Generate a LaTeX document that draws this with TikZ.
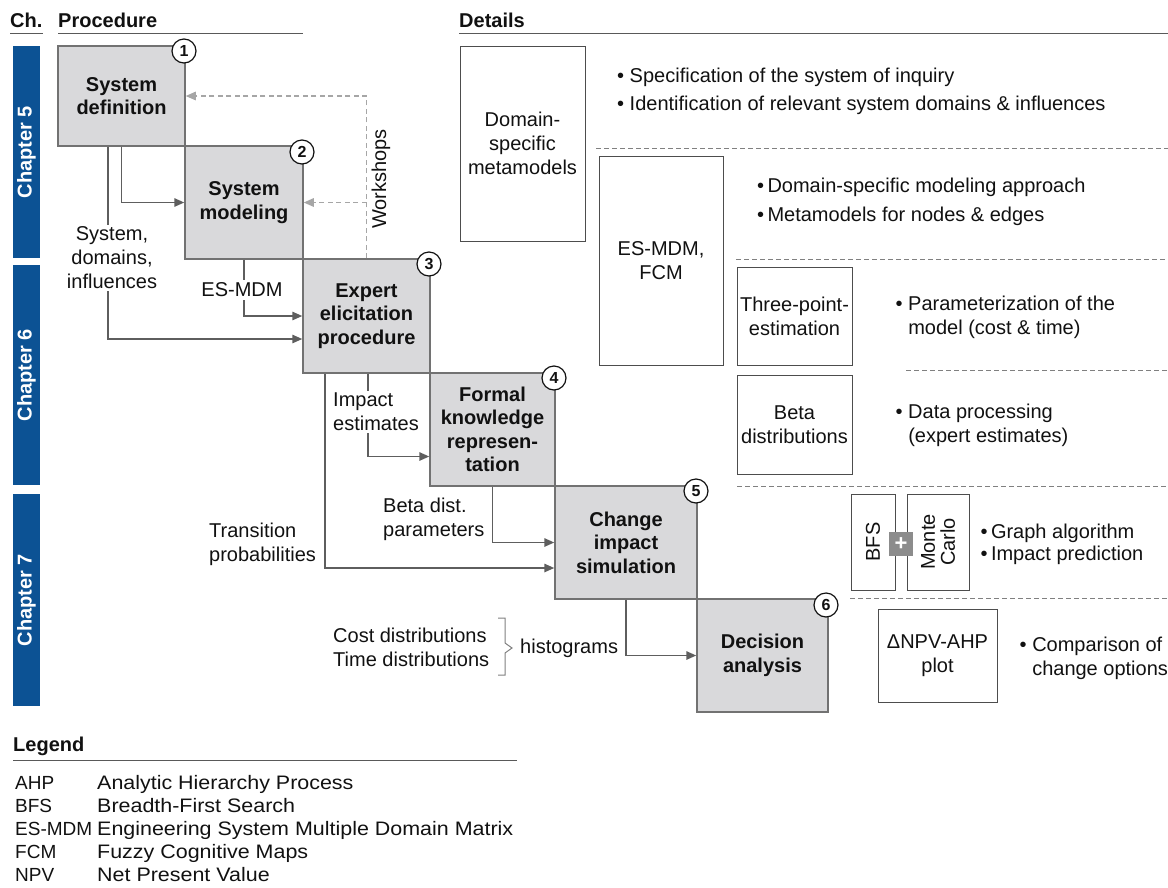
\documentclass[tikz,border=0pt]{standalone}
\usepackage{fontspec}
\setmainfont{Liberation Sans}
\usetikzlibrary{arrows.meta}

\definecolor{chapblue}{RGB}{12,82,148}
\definecolor{boxfill}{RGB}{217,217,219}
\definecolor{boxline}{RGB}{114,114,114}
\definecolor{connc}{RGB}{94,94,94}
\definecolor{wsc}{RGB}{166,166,166}
\definecolor{dline}{RGB}{77,77,77}
\definecolor{sepc}{RGB}{128,128,128}
\definecolor{hlc}{RGB}{89,89,89}
\definecolor{txt}{RGB}{17,17,17}
\definecolor{plusgray}{RGB}{140,140,140}

% legend descriptions are set slightly wide
\newcommand\legwide[1]{\scalebox{1.1}[1]{#1}}

\tikzset{
  every node/.style={font=\fontsize{20}{24}\selectfont, text=txt},
  procbox/.style={draw=boxline, fill=boxfill, line width=1.5pt, align=center,
    inner sep=0pt, font=\fontsize{20}{23.5}\selectfont\bfseries},
  numc/.style={circle, draw=txt, fill=white, line width=1.2pt, minimum size=24pt,
    inner sep=0pt, font=\fontsize{16}{16}\selectfont\bfseries},
  conn/.style={draw=connc, line width=1.5pt, -{Triangle[length=10pt,width=8.5pt]}},
  wsconn/.style={draw=wsc, line width=1.3pt, dash pattern=on 5pt off 3.5pt,
    -{Triangle[length=10pt,width=8.5pt,fill=wsc]}},
  lbl/.style={fill=white, inner sep=2pt, align=left},
  dbox/.style={draw=dline, line width=1pt, fill=white, align=center, inner sep=0pt},
  sepline/.style={draw=sepc, line width=0.9pt, dash pattern=on 5pt off 3pt},
  bul/.style={anchor=west, inner sep=0pt, align=left},
  hdr/.style={anchor=base west, inner sep=0pt, font=\fontsize{20}{24}\selectfont\bfseries},
  hline/.style={draw=hlc, line width=1pt},
  chap/.style={fill=chapblue, inner sep=0pt, rotate=90, text=white,
    minimum height=27pt, font=\fontsize{20}{24}\selectfont\bfseries},
  legabbr/.style={anchor=base west, inner sep=0pt, font=\fontsize{19}{23}\selectfont},
  legtxt/.style={anchor=base west, inner sep=0pt, font=\fontsize{19.5}{23}\selectfont},
}

\begin{document}
\begin{tikzpicture}[x=1pt,y=-1pt]
\useasboundingbox (0,0) rectangle (1168,887);

% ---------- headers ----------
\node[hdr] (hch) at (10,27) {Ch.};
\node[hdr] (hproc) at (58,27) {Procedure};
\node[hdr] (hdet) at (459,27) {Details};
\draw[hline] (10,33.5) -- (43,33.5);
\draw[hline] (58,33.5) -- (303,33.5);
\draw[hline] (459,33.5) -- (1168,33.5);

% ---------- chapter bars ----------
\node[chap, minimum width=212pt] (ch5) at (26.5,152) {Chapter 5};
\node[chap, minimum width=220pt] (ch6) at (26.5,375) {Chapter 6};
\node[chap, minimum width=212pt] (ch7) at (26.5,600) {Chapter 7};

% ---------- procedure steps ----------
\node[procbox, minimum width=127pt, minimum height=100pt] (b1) at (121.5,96) {System\\definition};
\node[procbox, minimum width=118pt, minimum height=113pt] (b2) at (244,202.5) {System\\modeling};
\node[procbox, minimum width=127pt, minimum height=114pt] (b3) at (366.5,316) {Expert\\elicitation\\procedure};
\node[procbox, minimum width=125pt, minimum height=113pt] (b4) at (492.5,429.5) {Formal\\knowledge\\represen-\\tation};
\node[procbox, minimum width=142pt, minimum height=113pt] (b5) at (626,542.5) {Change\\impact\\simulation};
\node[procbox, minimum width=131pt, minimum height=113pt] (b6) at (762.5,655.5) {Decision\\analysis};

\node[numc] (n1) at (184,51) {1};
\node[numc] (n2) at (302,152) {2};
\node[numc] (n3) at (429,264) {3};
\node[numc] (n4) at (554,378) {4};
\node[numc] (n5) at (696,491) {5};
\node[numc] (n6) at (826,605) {6};

% ---------- workshop feedback ----------
\draw[wsconn] (b3.north) |- (b1.east);
\draw[wsconn] (b3.north |- b2.east) -- (b2.east);
\node[rotate=90, inner sep=0pt] (ws) at (381,179) {Workshops};

% ---------- information flow ----------
\draw[conn] (b1.south) |- (b2.west);
\draw[conn] ([xshift=-13.5pt]b1.south) |- ([yshift=-23pt]b3.west);
\draw[conn] (b2.south) |- (b3.west);
\draw[conn] ([xshift=1.5pt]b3.south) |- ([yshift=-27pt]b4.west);
\draw[conn] ([xshift=-41.5pt]b3.south) |- ([yshift=-25.5pt]b5.west);
\draw[conn] (b4.south) |- (b5.west);
\draw[conn] (b5.south) |- (b6.west);

\node[lbl, align=center] (lsys) at (112,258) {System,\\domains,\\influences};
\node[lbl, inner sep=3pt] (lmdm) at (242,290) {ES-MDM};
\node[lbl, anchor=west] (limp) at (331,412) {Impact\\estimates};
\node[lbl, anchor=west, fill=none] (lbeta) at (381,519) {Beta dist.\\parameters};
\node[lbl, anchor=west, fill=none] (ltrans) at (207,544) {Transition\\probabilities};
\node[lbl, anchor=west, fill=none] (ldist) at (331,647) {Cost distributions\\Time distributions};
\node[lbl, anchor=west, fill=none] (lhist) at (518,648) {histograms};
\draw[draw=sepc, line width=1pt] (498,618) -- (505,618) -- (505,643) -- (512,648)
  -- (505,653) -- (505,675) -- (498,675);

% ---------- details ----------
\node[dbox, minimum width=125pt, minimum height=195pt] (d1) at (522.5,143.5) {Domain-\\specific\\metamodels};
\node[bul] (t1a) at (617,77) {• Specification of the system of inquiry};
\node[bul] (t1b) at (617,105) {• Identification of relevant system domains \& influences};
\draw[sepline] (596,148) -- (1168,148);

\node[dbox, minimum width=124pt, minimum height=209pt] (d2) at (661,260.5) {ES-MDM,\\FCM};
\node[bul] (t2a) at (757,187) {•\,Domain-specific modeling approach};
\node[bul] (t2b) at (757,216) {•\,Metamodels for nodes \& edges};
\draw[sepline] (736,259) -- (1168,259);

\node[dbox, minimum width=115pt, minimum height=98pt] (d3) at (794.5,316) {Three-point-\\estimation};
\node[bul] (t3) at (895.5,317) {• Parameterization of the\\\hphantom{• }model (cost \& time)};
\draw[sepline] (906,370) -- (1168,370);

\node[dbox, minimum width=115pt, minimum height=99pt] (d4) at (794.5,424.5) {Beta\\distributions};
\node[bul] (t4) at (895.5,425) {• Data processing\\\hphantom{• }(expert estimates)};
\draw[sepline] (737,486) -- (1168,486);

\node[dbox, rotate=90, minimum width=96pt, minimum height=44pt] (bfs) at (873,542) {BFS};
\node[dbox, rotate=90, minimum width=96pt, minimum height=62pt,
  font=\fontsize{20}{20}\selectfont] (mc) at (938,542) {Monte\\Carlo};
\node[fill=plusgray, minimum size=24pt, inner sep=0pt, text=white,
  font=\fontsize{22}{22}\selectfont\bfseries] (plus) at (901,544) {+};
\node[bul] (t5a) at (980.5,533) {•\,Graph algorithm};
\node[bul] (t5b) at (980.5,555) {•\,Impact prediction};
\draw[sepline] (850,598) -- (1168,598);

\node[dbox, minimum width=119pt, minimum height=93pt] (d6) at (937.5,655.5) {ΔNPV-AHP\\plot};
\node[bul] (t6) at (1019.5,658.5) {• Comparison of\\\hphantom{• }change options};

% ---------- legend ----------
\node[hdr] (hleg) at (13,751) {Legend};
\draw[hline] (13,760) -- (517,760);
\node[legabbr] (a1) at (15,789) {AHP};
\node[legabbr] (a2) at (15,812) {BFS};
\node[legabbr] (a3) at (15,835) {ES-MDM};
\node[legabbr] (a4) at (15,858) {FCM};
\node[legabbr] (a5) at (15,881) {NPV};
\node[legtxt] (e1) at (97,789) {\legwide{Analytic Hierarchy Process}};
\node[legtxt] (e2) at (97,812) {\legwide{Breadth-First Search}};
\node[legtxt] (e3) at (97,835) {\legwide{Engineering System Multiple Domain Matrix}};
\node[legtxt] (e4) at (97,858) {\legwide{Fuzzy Cognitive Maps}};
\node[legtxt] (e5) at (97,881) {\legwide{Net Present Value}};
\end{tikzpicture}
\end{document}
